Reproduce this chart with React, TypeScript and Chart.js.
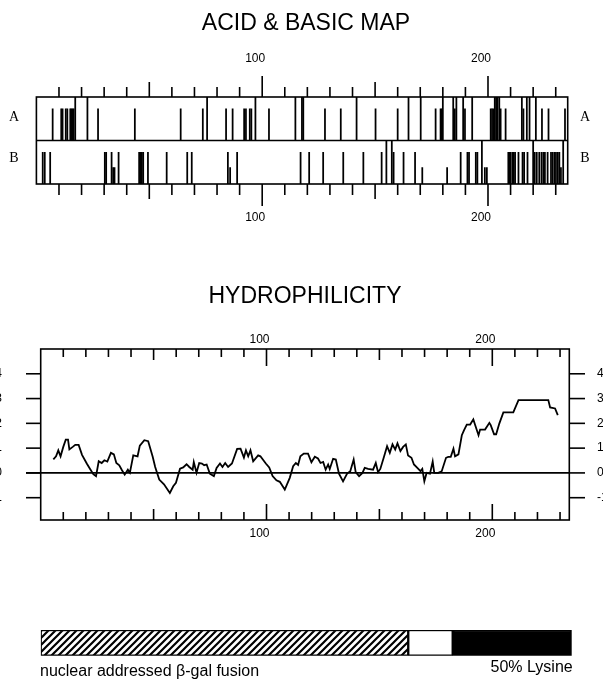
import React, { useEffect, useRef } from "react";
import { Chart, registerables } from "chart.js";

Chart.register(...registerables);

const SANS = '"Liberation Sans", Arial, Helvetica, sans-serif';
const SERIF = '"Liberation Serif", "Times New Roman", serif';
const W = 603;
const H = 679;

// ---------- ACID & BASIC MAP ----------
// heights as fraction of the row: 1 = full, 0.73 = partial, 0.38 = short
const acidPos = [
  7.2, 11, 11.6, 13, 13.7, 15, 15.5, 16, 16.5, 17.2, 22.6, 27.3, 43.6, 63.9, 73.7, 75.6,
  84, 86.9, 92, 92.8, 94.5, 95.2, 97, 103, 114.7, 117.6, 118.2, 127.8, 134.8, 141.8, 150.2,
  160, 164.8, 170.2, 176.8, 179, 179.5, 180, 184.6, 185.3, 186, 189, 189.8, 193, 201.2,
  201.8, 202.4, 203, 203.6, 204.2, 205, 205.6, 207.8, 215, 215.7, 217.2, 218.4, 221.2,
  223.9, 226.8, 234.1,
];
const acidHeight = [
  0.73, 0.73, 0.73, 0.73, 0.73, 0.73, 0.73, 0.73, 0.73, 1, 1, 0.73, 0.73, 0.73, 0.73, 1,
  0.73, 0.73, 0.73, 0.73, 0.73, 0.73, 1, 0.73, 1, 1, 1, 0.73, 0.73, 1, 0.73,
  0.73, 1, 1, 0.73, 0.73, 0.73, 1, 1, 0.73, 1, 1, 0.73, 1, 0.73,
  0.73, 0.73, 1, 1, 1, 1, 0.73, 0.73, 1, 0.73, 1, 1, 1,
  0.73, 0.73, 0.73,
];
const basicPos = [
  2.8, 3.7, 6.1, 30.3, 30.9, 33.3, 34, 34.6, 36.4, 45.5, 46.1, 46.7, 47.3, 49.4, 57.7,
  66.8, 68.8, 84.8, 85.8, 88.9, 117, 120.8, 127, 135.9, 144.8, 152.9, 155, 157.4, 158.2,
  162.6, 167.7, 170.9, 181.9, 187.9, 190.9, 191.6, 194.6, 195.3, 197.3, 198.6, 199.5,
  209, 209.5, 210, 210.8, 211.4, 212, 213.5, 215.3, 216, 217.5, 220, 220.7, 221.6, 222.7,
  223.7, 224.5, 225.2, 226.4, 227.9, 228.6, 229.4, 230.1, 230.9, 231.6, 232.3, 233.3,
];
const basicHeight = [
  0.73, 0.73, 0.73, 0.73, 0.73, 0.73, 0.38, 0.38, 0.73, 0.73, 0.73, 0.73, 0.73, 0.73, 0.73,
  0.73, 0.73, 0.73, 0.38, 0.73, 0.73, 0.73, 0.73, 0.73, 0.73, 0.73, 1, 1, 0.73,
  0.73, 0.73, 0.38, 0.38, 0.73, 0.73, 0.73, 0.73, 0.73, 1, 0.38, 0.38,
  0.73, 0.73, 0.73, 0.73, 0.73, 0.73, 0.73, 0.73, 0.73, 0.73, 1, 0.73, 0.73, 0.73,
  0.73, 0.73, 0.73, 0.73, 0.73, 0.73, 0.73, 0.73, 0.73, 0.73, 0.38, 1,
];
const mapTicks = [10, 20, 30, 40, 50, 60, 70, 80, 90, 100, 110, 120, 130, 140, 150, 160, 170, 180, 190, 200, 210, 220, 230];
const mapTickLabels = [100, 200];

// ---------- HYDROPHILICITY ----------
const hydroPos = [
  5.6, 6.8, 7.8, 8.8, 10, 11.1, 12.1, 12.7, 14.2, 15.3, 16.8, 18.3, 20.4, 21.8, 23.3, 24.5,
  25.7, 27, 28.2, 29.5, 31.1, 32.4, 33.5, 34.8, 36, 37.2, 38.6, 39.5, 41, 42.9, 43.9, 45.9,
  47.6, 49.6, 50.7, 52.5, 54.6, 57.2, 58.7, 59.9, 61.7, 63.1, 64.6, 65.8, 67.3, 67.8, 69,
  70.2, 71.4, 72.4, 73.5, 74.9, 76.7, 77.9, 79.4, 80.5, 81.7, 83, 84.7, 87, 88.5, 90, 90.9,
  91.9, 92.9, 94.1, 96.3, 97.3, 99.7, 101.2, 102.7, 104.4, 105.9, 108.1, 110.3, 111.8, 113,
  114, 115, 116.5, 118.4, 119.9, 121.4, 122.8, 123.9, 125.1, 126.2, 127.3, 128, 129.5,
  130.7, 132.1, 133.9, 135.7, 137.1, 138.6, 139.5, 141, 142.5, 143.5, 145, 147.2, 148.4,
  149.4, 150.4, 151.9, 153.4, 154.6, 155.8, 157, 158, 159.3, 160.5, 161.7, 162.7, 164.2,
  165.3, 166.8, 168.2, 169, 169.9, 170.9, 172.4, 173.6, 174.3, 176.1, 177.6, 179.5, 180.5,
  181.6, 182.8, 183.5, 185, 186.5, 187.5, 188.7, 190.2, 191.6, 192.4, 193.9, 194.6, 196.8,
  198.7, 199.3, 200.8, 201.7, 203.1, 204.9, 209.3, 211.6, 224.8, 225.6, 227.8, 229,
];
const hydroVal = [
  0.55, 0.67, 0.91, 0.67, 1.05, 1.34, 1.34, 0.95, 1.05, 1.13, 1.13, 0.73, 0.38, 0.17, -0.05, -0.13,
  0.47, 0.4, 0.51, 0.46, 0.81, 0.75, 0.4, 0.31, 0.11, -0.07, 0.13, 0.01, 0.71, 0.67, 1.1, 1.32,
  1.28, 0.65, 0.24, -0.27, -0.46, -0.81, -0.54, -0.4, 0.17, 0.22, 0.35, 0.24, 0.13, 0.44, 0.01,
  0.4, 0.38, 0.31, 0.34, -0.03, -0.13, 0.2, 0.38, 0.24, 0.4, 0.24, 0.38, 0.97, 0.98, 0.62, 0.91,
  0.67, 0.91, 0.47, 0.71, 0.67, 0.38, 0.22, -0.13, -0.3, -0.36, -0.67, -0.2, 0.27, 0.4,
  0.32, 0.67, 0.78, 0.78, 0.43, 0.65, 0.58, 0.4, 0.44, 0.13, 0.34, 0.16, 0.57,
  0.54, -0.03, -0.34, -0.03, 0.07, 0.54, 0.03, -0.13, 0, 0.2, 0.16, 0.13, 0.4,
  0.03, 0.16, 0.61, 1.08, 0.81, 1.15, 0.94, 1.19, 0.88, 1.05, 1.15, 0.7, 0.61,
  0.34, 0.2, 0.07, 0.16, -0.34, 0, -0.03, 0.46, 0, 0, 0.07, 0.61, 0.65,
  0.65, 0.98, 0.67, 0.75, 1.52, 1.73, 1.95, 1.95, 2.16, 1.93, 1.52, 1.75, 1.75,
  2.02, 1.93, 1.56, 1.56, 1.99, 2.44, 2.44, 2.94, 2.94, 2.64, 2.6, 2.33,
];
const hydroYTicks = [-1, 0, 1, 2, 3, 4];
const hydroYTickLabels = ["-1", "0", "1", "2", "3", "4"];

// ---------- CONSTRUCT BAR ----------
const constructLabels = ["nuclear addressed β-gal fusion", "spacer", "50% Lysine"];
const constructLengths = [162.8, 19.7, 52.7];

function line(ctx: CanvasRenderingContext2D, x1: number, y1: number, x2: number, y2: number) {
  ctx.beginPath();
  ctx.moveTo(x1, y1);
  ctx.lineTo(x2, y2);
  ctx.stroke();
}

const baseOpts: any = {
  responsive: false,
  maintainAspectRatio: false,
  devicePixelRatio: 1,
  animation: false,
  events: [],
  plugins: { legend: { display: false }, tooltip: { enabled: false }, title: { display: false } },
};

function makeHatch(): CanvasPattern | string {
  const c = document.createElement("canvas");
  const s = 7;
  c.width = s;
  c.height = s;
  const g = c.getContext("2d");
  if (!g) return "#fff";
  g.fillStyle = "#fff";
  g.fillRect(0, 0, s, s);
  g.strokeStyle = "#000";
  g.lineWidth = 2.2;
  g.beginPath();
  g.moveTo(-1, s + 1);
  g.lineTo(s + 1, -1);
  g.moveTo(-1, 1);
  g.lineTo(1, -1);
  g.moveTo(s - 1, s + 1);
  g.lineTo(s + 1, s - 1);
  g.stroke();
  const p = g.createPattern(c, "repeat");
  return p || "#fff";
}

export default function App() {
  const mapRef = useRef<HTMLCanvasElement>(null);
  const hydroRef = useRef<HTMLCanvasElement>(null);
  const barRef = useRef<HTMLCanvasElement>(null);

  useEffect(() => {
    const charts: Chart[] = [];

    // ---- Map chart ----
    const mapPlugin = {
      id: "mapDecor",
      afterDraw(chart: any) {
        const { ctx, chartArea: ca, scales } = chart;
        const x = scales.x;
        const y = scales.y;
        ctx.save();
        ctx.strokeStyle = "#000";
        ctx.fillStyle = "#000";
        ctx.lineWidth = 1.6;
        ctx.strokeRect(ca.left, ca.top, ca.right - ca.left, ca.bottom - ca.top);
        const mid = y.getPixelForValue(1);
        line(ctx, ca.left, mid, ca.right, mid);
        for (const v of mapTicks) {
          const px = x.getPixelForValue(v);
          const up = v % 100 === 0 ? 21 : v % 50 === 0 ? 15 : 10;
          const dn = v % 100 === 0 ? 22 : v % 50 === 0 ? 15 : 11;
          line(ctx, px, ca.top, px, ca.top - up);
          line(ctx, px, ca.bottom, px, ca.bottom + dn);
        }
        ctx.font = `12px ${SANS}`;
        ctx.textAlign = "center";
        ctx.textBaseline = "alphabetic";
        for (const v of mapTickLabels) {
          const px = x.getPixelForValue(v) - 7;
          ctx.fillText(String(v), px, 61.5);
          ctx.fillText(String(v), px, 221);
        }
        ctx.font = `23px ${SANS}`;
        ctx.fillText("ACID & BASIC MAP", 306, 30);
        ctx.font = `14px ${SERIF}`;
        ctx.textBaseline = "middle";
        ctx.fillText("A", 14, 117);
        ctx.fillText("B", 14, 158);
        ctx.fillText("A", 585, 117);
        ctx.fillText("B", 585, 158);
        ctx.restore();
      },
    };

    if (mapRef.current) {
      charts.push(
        new Chart(mapRef.current, {
          type: "bar",
          data: {
            datasets: [
              {
                label: "A",
                data: acidPos.map((p, i) => ({ x: p, y: [1, 1 + acidHeight[i]] })) as any,
                backgroundColor: "#000",
                borderWidth: 0,
                barThickness: 1.1,
                grouped: false,
              } as any,
              {
                label: "B",
                data: basicPos.map((p, i) => ({ x: p, y: [0, basicHeight[i]] })) as any,
                backgroundColor: "#000",
                borderWidth: 0,
                barThickness: 1.1,
                grouped: false,
              } as any,
            ],
          },
          options: {
            ...baseOpts,
            layout: { padding: { left: 36.4, right: W - 567.7, top: 97, bottom: H - 184 } },
            scales: {
              x: { type: "linear", min: 0, max: 235.3, display: false, offset: false },
              y: { type: "linear", min: 0, max: 2, display: false },
            },
          },
          plugins: [mapPlugin],
        } as any)
      );
    }

    // ---- Hydrophilicity chart ----
    const hydroPlugin = {
      id: "hydroDecor",
      afterDraw(chart: any) {
        const { ctx, chartArea: ca, scales } = chart;
        const x = scales.x;
        const y = scales.y;
        ctx.save();
        ctx.strokeStyle = "#000";
        ctx.fillStyle = "#000";
        ctx.lineWidth = 1.6;
        ctx.strokeRect(ca.left, ca.top, ca.right - ca.left, ca.bottom - ca.top);
        const y0 = y.getPixelForValue(0);
        line(ctx, 26, y0, ca.right, y0);
        for (const v of hydroYTicks) {
          const py = y.getPixelForValue(v);
          line(ctx, 26, py, ca.left, py);
          line(ctx, ca.right, py, 585, py);
        }
        for (let t = 10; t <= 230; t += 10) {
          const px = x.getPixelForValue(t);
          const top = t % 100 === 0 ? 17 : t % 50 === 0 ? 11 : 8;
          const bot = t % 100 === 0 ? 16 : t % 50 === 0 ? 11 : 8;
          line(ctx, px, ca.top, px, ca.top + top);
          line(ctx, px, ca.bottom, px, ca.bottom - bot);
        }
        ctx.font = `12px ${SANS}`;
        ctx.textBaseline = "middle";
        hydroYTicks.forEach((v, i) => {
          const py = y.getPixelForValue(v);
          ctx.textAlign = "right";
          ctx.fillText(hydroYTickLabels[i], 2, py);
          ctx.textAlign = "left";
          ctx.fillText(hydroYTickLabels[i], 597, py);
        });
        ctx.textAlign = "center";
        ctx.textBaseline = "alphabetic";
        for (const v of mapTickLabels) {
          const px = x.getPixelForValue(v) - 7;
          ctx.fillText(String(v), px, 343);
          ctx.fillText(String(v), px, 537);
        }
        ctx.font = `23px ${SANS}`;
        ctx.fillText("HYDROPHILICITY", 305, 302.7);
        ctx.restore();
      },
    };

    if (hydroRef.current) {
      charts.push(
        new Chart(hydroRef.current, {
          type: "line",
          data: {
            datasets: [
              {
                label: "Hydrophilicity",
                data: hydroPos.map((p, i) => ({ x: p, y: hydroVal[i] })),
                borderColor: "#000",
                borderWidth: 1.8,
                pointRadius: 0,
                tension: 0,
                fill: false,
              },
            ],
          },
          options: {
            ...baseOpts,
            layout: { padding: { left: 40.7, right: W - 569.3, top: 349, bottom: H - 520 } },
            scales: {
              x: { type: "linear", min: 0, max: 234.1, display: false },
              y: { type: "linear", min: -1.9, max: 5, display: false },
            },
          },
          plugins: [hydroPlugin],
        } as any)
      );
    }

    // ---- Construct bar ----
    const fills = [makeHatch(), "#fff", "#000"];
    const barPlugin = {
      id: "barDecor",
      afterDraw(chart: any) {
        const { ctx, chartArea: ca } = chart;
        ctx.save();
        ctx.fillStyle = "#000";
        ctx.font = `16px ${SANS}`;
        ctx.textBaseline = "alphabetic";
        ctx.textAlign = "left";
        ctx.fillText(constructLabels[0], ca.left - 0.7, 676);
        ctx.textAlign = "right";
        ctx.fillText(constructLabels[2], ca.right + 1, 672);
        ctx.restore();
      },
    };
    if (barRef.current) {
      charts.push(
        new Chart(barRef.current, {
          type: "bar",
          data: {
            labels: ["construct"],
            datasets: constructLengths.map((len, i) => ({
              label: constructLabels[i],
              data: [len],
              backgroundColor: fills[i] as any,
              borderColor: "#000",
              borderWidth: 1.5,
              borderSkipped: false,
              barPercentage: 1,
              categoryPercentage: 1,
            })),
          },
          options: {
            ...baseOpts,
            indexAxis: "y",
            layout: { padding: { left: 40.7, right: W - 571.7, top: 630, bottom: H - 655.7 } },
            scales: {
              x: { type: "linear", stacked: true, min: 0, max: 235.2, display: false },
              y: { stacked: true, display: false },
            },
          },
          plugins: [barPlugin],
        } as any)
      );
    }

    return () => {
      charts.forEach((c) => c.destroy());
    };
  }, []);

  const cs: React.CSSProperties = { position: "absolute", left: 0, top: 0, width: W, height: H };
  return (
    <div style={{ position: "fixed", left: 0, top: 0, width: W, height: H, background: "#fff", overflow: "hidden" }}>
      <canvas ref={mapRef} width={W} height={H} style={cs} />
      <canvas ref={hydroRef} width={W} height={H} style={cs} />
      <canvas ref={barRef} width={W} height={H} style={cs} />
    </div>
  );
}
